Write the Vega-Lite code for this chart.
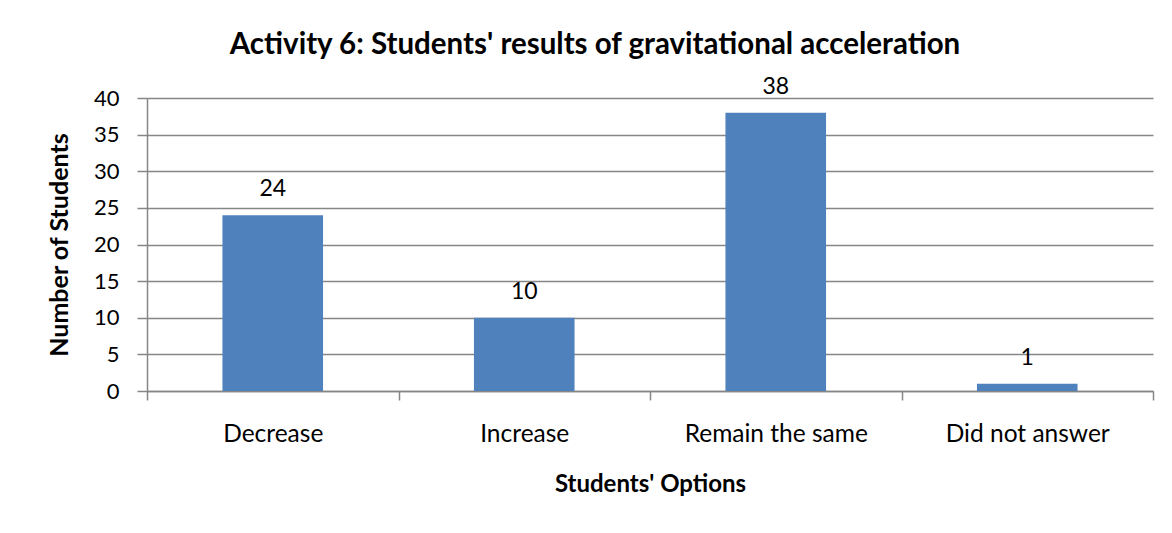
{
  "$schema": "https://vega.github.io/schema/vega-lite/v6.json",
  "width": 1006,
  "height": 293,
  "autosize": "none",
  "padding": {"left": 147, "top": 98, "right": 19, "bottom": 142},
  "background": "white",
  "title": {
    "text": "Activity 6: Students' results of gravitational acceleration",
    "font": "Lato",
    "fontSize": 29.5,
    "fontWeight": "bold",
    "color": "black",
    "anchor": "middle",
    "dx": -55,
    "offset": 15
  },
  "data": {
    "values": [
      {"option": "Decrease", "students": 24},
      {"option": "Increase", "students": 10},
      {"option": "Remain the same", "students": 38},
      {"option": "Did not answer", "students": 1}
    ]
  },
  "encoding": {
    "x": {
      "field": "option",
      "type": "nominal",
      "sort": null,
      "scale": {"paddingInner": 0, "paddingOuter": 0},
      "axis": {
        "title": "Students' Options",
        "labelAngle": 0,
        "labelLimit": 0,
        "tickBand": "extent",
        "grid": false,
        "labelFont": "Lato",
        "labelFontSize": 24.5,
        "labelColor": "black",
        "labelPadding": 22,
        "titleFont": "Lato",
        "titleFontSize": 24,
        "titleFontWeight": "bold",
        "titleColor": "black",
        "titlePadding": 27,
        "domainColor": "#868686",
        "domainWidth": 1.5,
        "tickColor": "#868686",
        "tickWidth": 1.5,
        "tickSize": 9
      }
    },
    "y": {
      "field": "students",
      "type": "quantitative",
      "scale": {"domain": [0, 40], "nice": false},
      "axis": {
        "title": "Number of Students",
        "values": [0, 5, 10, 15, 20, 25, 30, 35, 40],
        "grid": true,
        "gridColor": "#868686",
        "gridWidth": 1.5,
        "labelFont": "Lato",
        "labelFontSize": 22,
        "labelColor": "black",
        "labelPadding": 18,
        "titleFont": "Lato",
        "titleFontSize": 25,
        "titleFontWeight": "bold",
        "titleColor": "black",
        "titlePadding": 21,
        "domainColor": "#868686",
        "domainWidth": 1.5,
        "tickColor": "#868686",
        "tickWidth": 1.5,
        "tickSize": 10
      }
    }
  },
  "layer": [
    {
      "mark": {"type": "bar", "color": "#4F81BD", "width": {"band": 0.4}}
    },
    {
      "mark": {"type": "text", "dy": -14, "baseline": "bottom", "font": "Lato", "fontSize": 23, "color": "black"},
      "encoding": {"text": {"field": "students", "type": "quantitative"}}
    }
  ],
  "config": {"view": {"stroke": null}}
}
